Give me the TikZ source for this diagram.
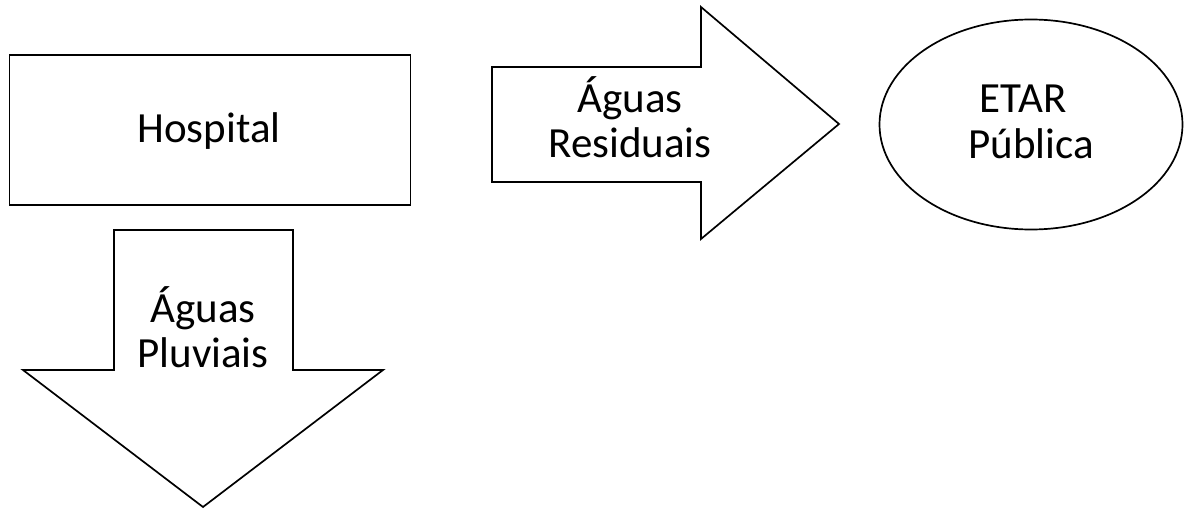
\documentclass[tikz,border=0pt]{standalone}
\usepackage{fontspec}
\setmainfont{Carlito}
\usetikzlibrary{shapes.geometric}
\begin{document}
\begin{tikzpicture}[x=1pt,y=-1pt,
  shp/.style={draw=black,line width=1.7pt,line join=miter,fill=white},
  lbl/.style={font=\fontsize{43}{46}\selectfont,align=center,inner sep=0pt}]
\useasboundingbox (0,0) rectangle (1184,511);
% Hospital box
\node[shp,rectangle,minimum width=401pt,minimum height=150pt,inner sep=0pt] (hosp) at (210,130) {};
\node[lbl,anchor=base] (hospt) at (209,142) {Hospital};
% right arrow
\draw[shp] (492,67) -- (701,67) -- (701,7) -- (839,124) -- (701,239) -- (701,182) -- (492,182) -- cycle;
\node[lbl,anchor=base] (res1) at (630,112) {Águas};
\node[lbl,anchor=base] (res2) at (630,157) {Residuais};
% ellipse
\node[shp,ellipse,minimum width=303pt,minimum height=210pt,inner sep=0pt] (etar) at (1031,124.5) {};
\node[lbl,anchor=base] (etar1) at (1023,113) {ETAR};
\node[lbl,anchor=base] (etar2) at (1031,158) {Pública};
% down arrow
\draw[shp] (114,230) -- (293,230) -- (293,370) -- (383,370) -- (203,507) -- (23,370) -- (114,370) -- cycle;
\node[lbl,anchor=base] (plu1) at (203,322) {Águas};
\node[lbl,anchor=base] (plu2) at (203,367) {Pluviais};
\end{tikzpicture}
\end{document}
